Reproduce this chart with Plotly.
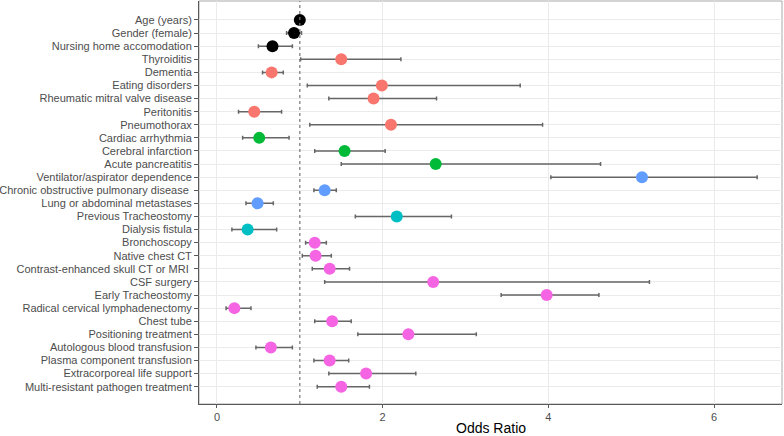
import plotly.graph_objects as go

labels = [
    "Age (years)", "Gender (female)", "Nursing home accomodation", "Thyroiditis",
    "Dementia", "Eating disorders", "Rheumatic mitral valve disease", "Peritonitis",
    "Pneumothorax", "Cardiac arrhythmia", "Cerebral infarction", "Acute pancreatitis",
    "Ventilator/aspirator dependence", "Chronic obstructive pulmonary disease\u00a0",
    "Lung or abdominal metastases", "Previous Tracheostomy", "Dialysis fistula",
    "Bronchoscopy", "Native chest CT", "Contrast-enhanced skull CT or MRI\u00a0",
    "CSF surgery", "Early Tracheostomy", "Radical cervical lymphadenectomy",
    "Chest tube", "Positioning treatment", "Autologous blood transfusion",
    "Plasma component transfusion", "Extracorporeal life support",
    "Multi-resistant pathogen treatment",
]
odds_ratio = [1.00, 0.93, 0.67, 1.50, 0.66, 1.99, 1.89, 0.45, 2.10, 0.51, 1.54, 2.64,
              5.13, 1.30, 0.49, 2.17, 0.37, 1.18, 1.19, 1.36, 2.61, 3.98, 0.21, 1.39,
              2.31, 0.65, 1.36, 1.80, 1.50]
ci_lower = [0.99, 0.84, 0.50, 1.01, 0.55, 1.09, 1.35, 0.26, 1.12, 0.31, 1.18, 1.50,
            4.03, 1.17, 0.35, 1.67, 0.18, 1.07, 1.03, 1.15, 1.30, 3.43, 0.11, 1.18,
            1.70, 0.47, 1.17, 1.35, 1.21]
ci_upper = [1.01, 1.02, 0.91, 2.22, 0.80, 3.66, 2.65, 0.78, 3.93, 0.87, 2.03, 4.63,
            6.52, 1.44, 0.68, 2.83, 0.72, 1.32, 1.38, 1.60, 5.22, 4.61, 0.41, 1.62,
            3.13, 0.91, 1.59, 2.40, 1.84]
group = ["base"] * 3 + ["comorb"] * 6 + ["vasc"] * 3 + ["pulm"] * 3 + ["renal"] * 2 + ["proc"] * 12
x_ticks = [0, 2, 4, 6]
x_title = "Odds Ratio"

group_colors = {
    "base": "#000000", "comorb": "#F8766D", "vasc": "#00BA38",
    "pulm": "#619CFF", "renal": "#00BFC4", "proc": "#F564E3",
}

rows = list(range(1, len(labels) + 1))

fig = go.Figure()
fig.add_trace(go.Scatter(
    x=odds_ratio, y=rows, mode="markers",
    marker=dict(size=12, color=[group_colors[g] for g in group], line=dict(width=0)),
    error_x=dict(type="data", symmetric=False,
                 array=[u - o for u, o in zip(ci_upper, odds_ratio)],
                 arrayminus=[o - l for o, l in zip(odds_ratio, ci_lower)],
                 color="#666666", thickness=1.5, width=2),
    showlegend=False, hoverinfo="skip",
))

fig.add_shape(type="rect", xref="paper", yref="paper", x0=0, x1=1, y0=0, y1=1,
              line=dict(color="#a8a8a8", width=1), layer="below")
fig.add_shape(type="line", xref="x", yref="paper", x0=1, x1=1, y0=0, y1=1,
              line=dict(color="#777777", width=1.2, dash="3px,3px"), layer="above")

fig.add_annotation(text=x_title, xref="paper", yref="paper", x=0.5, y=0,
                   xanchor="center", yanchor="bottom", yshift=-34, showarrow=False,
                   font=dict(size=14, color="#000000"))

font_family = "Liberation Sans, Arial, sans-serif"
fig.update_layout(
    width=784, height=436,
    margin=dict(l=199, r=2, t=1, b=32),
    plot_bgcolor="white", paper_bgcolor="white",
    font=dict(family=font_family, size=11, color="#4d4d4d"),
    xaxis=dict(
        range=[-0.217, 6.82], tickvals=x_ticks, ticktext=[str(t) for t in x_ticks],
        showgrid=True, gridcolor="#ebebeb", gridwidth=1, zeroline=False,
        showline=True, linecolor="#5a5a5a", linewidth=1,
        ticks="outside", ticklen=3, tickcolor="#5a5a5a",
        tickfont=dict(size=11, color="#4d4d4d"), automargin=False,
    ),
    yaxis=dict(
        range=[30.32, -0.45], tickvals=rows, ticktext=labels,
        showgrid=True, gridcolor="#ebebeb", gridwidth=1, zeroline=False,
        showline=True, linecolor="#5a5a5a", linewidth=1,
        ticks="outside", ticklen=4, tickcolor="#5a5a5a",
        tickfont=dict(size=11, color="#4d4d4d"), automargin=False,
    ),
)

fig.write_html("out.html", config={"displayModeBar": False},
               post_script="document.body.style.margin='0';document.body.style.overflow='hidden';")
